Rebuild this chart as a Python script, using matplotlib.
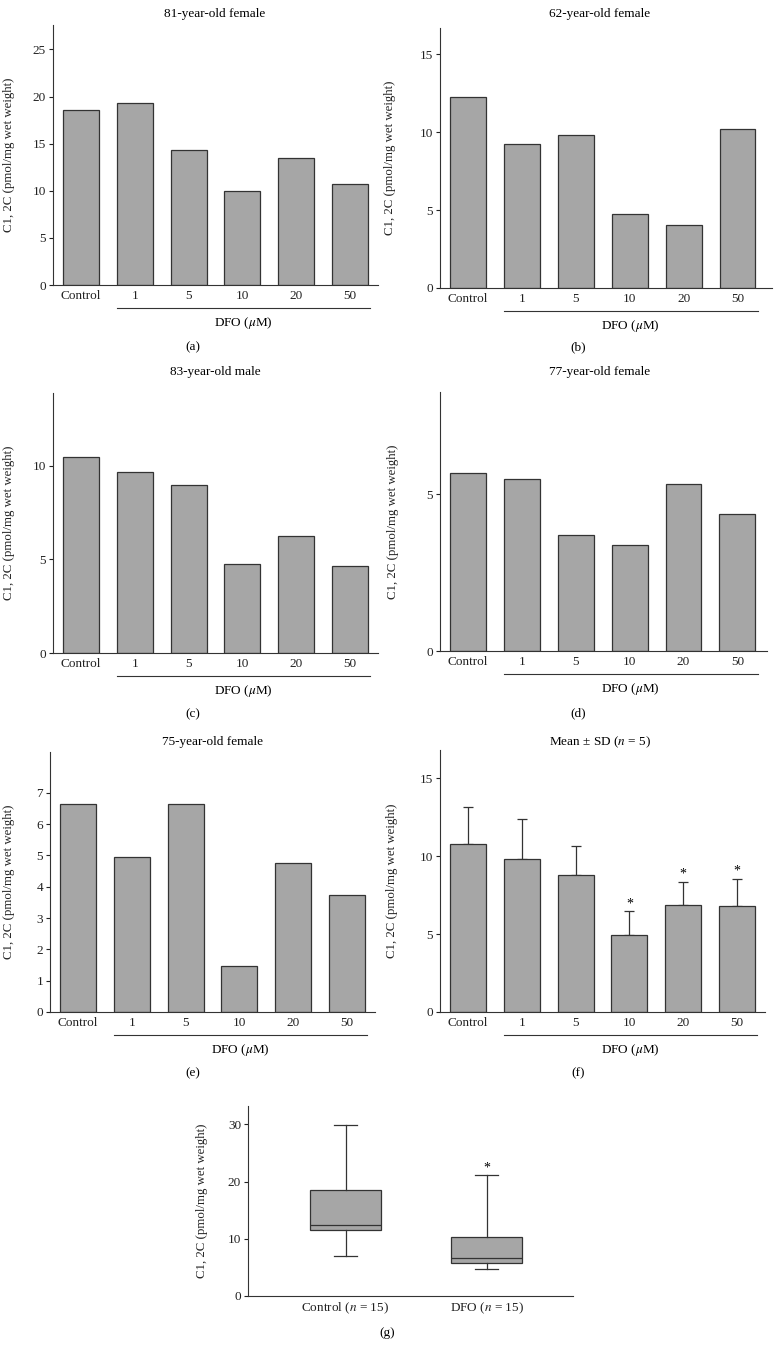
import numpy as np
import matplotlib.pyplot as plt
from matplotlib import transforms

plt.rcParams['font.family'] = 'Liberation Serif'
plt.rcParams['mathtext.fontset'] = 'stix'
plt.rcParams['font.size'] = 9.5

# bar data
groups = ['Control', '1', '5', '10', '20', '50']
vals_a = [18.6, 19.3, 14.3, 10.0, 13.5, 10.7]
vals_b = [12.3, 9.25, 9.8, 4.75, 4.05, 10.2]
vals_c = [10.5, 9.65, 9.0, 4.75, 6.25, 4.65]
vals_d = [5.67, 5.49, 3.69, 3.40, 5.34, 4.39]
vals_e = [6.65, 4.95, 6.65, 1.48, 4.75, 3.75]
mean_f = [10.8, 9.8, 8.78, 4.95, 6.85, 6.8]
sd_f = [2.35, 2.6, 1.85, 1.5, 1.5, 1.75]
sig_f = [False, False, False, True, True, True]

# box plot (g)
box_labels = ['Control ($n$ = 15)', 'DFO ($n$ = 15)']
box_whislo = [6.95, 4.7]
box_q1 = [11.6, 5.85]
box_med = [12.4, 6.7]
box_q3 = [18.6, 10.3]
box_whishi = [29.8, 21.1]
box_sig = [False, True]

ylab = 'C1, 2C (pmol/mg wet weight)'
FILL = '#a6a6a6'
EDGE = '#333333'

W, H = 774, 1358
fig = plt.figure(figsize=(W / 100, H / 100), dpi=100)


def px_axes(l, t, r, b):
    return fig.add_axes([l / W, 1 - b / H, (r - l) / W, (b - t) / H])


def style_axes(ax, width_px, lab_off):
    for s in ['top', 'right']:
        ax.spines[s].set_visible(False)
    for s in ['left', 'bottom']:
        ax.spines[s].set_color(EDGE)
        ax.spines[s].set_linewidth(0.8)
    ax.tick_params(axis='x', length=0, pad=3.5, colors='#222222')
    ax.tick_params(axis='y', direction='out', length=3, width=0.8, pad=2, colors='#222222')
    ax.set_ylabel(ylab, color='#222222', fontsize=9.3)
    ax.yaxis.set_label_coords(-lab_off / width_px, 0.5)


def bar_panel(rect, values, ymax, yticks, xmax, lab_off, err=None, sig=None):
    l, t, r, b = rect
    ax = px_axes(l, t, r, b)
    x = np.arange(len(groups))
    ax.bar(x, values, width=0.667, color=FILL, edgecolor=EDGE, linewidth=0.9, zorder=2)
    if err is not None:
        ax.errorbar(x, values, yerr=[np.zeros(len(err)), err], fmt='none',
                    ecolor=EDGE, elinewidth=0.9, capsize=3.4, capthick=0.9, zorder=1)
        for xi, v, e, s in zip(x, values, err, sig):
            if s:
                ax.text(xi, v + e + 0.05, '*', ha='center', va='bottom', fontsize=10)
    ax.set_xlim(-0.52, xmax)
    ax.set_ylim(0, ymax)
    ax.set_yticks(yticks)
    ax.set_xticks(x)
    ax.set_xticklabels(groups)
    style_axes(ax, r - l, lab_off)
    # DFO bracket under the dose groups
    trans = transforms.blended_transform_factory(ax.transData, ax.transAxes)
    ax.plot([0.667, 5.38], [-0.088, -0.088], transform=trans, clip_on=False,
            color=EDGE, lw=0.8)
    ax.text(3.02, -0.146, 'DFO ($\\mu$M)', transform=trans, ha='center', va='center')
    return ax


def fig_text(x, y, s):
    fig.text(x / W, 1 - y / H, s, ha='center', va='center')


# (a)
bar_panel((53, 25, 378, 285), vals_a, 27.6, [0, 5, 10, 15, 20, 25], 5.52, 38)
fig_text(215, 14, '81-year-old female')
fig_text(193, 347, '(a)')

# (b)
bar_panel((440, 28, 772, 288), vals_b, 16.7, [0, 5, 10, 15], 5.64, 44)
fig_text(600, 14, '62-year-old female')
fig_text(578, 347, '(b)')

# (c)
bar_panel((53, 393, 378, 653), vals_c, 13.9, [0, 5, 10], 5.52, 38)
fig_text(215, 372, '83-year-old male')
fig_text(193, 714, '(c)')

# (d)
bar_panel((440, 392, 767, 651), vals_d, 8.27, [0, 5], 5.55, 41)
fig_text(600, 372, '77-year-old female')
fig_text(578, 713, '(d)')

# (e)
bar_panel((50, 752, 375, 1012), vals_e, 8.3, [0, 1, 2, 3, 4, 5, 6, 7], 5.52, 35)
fig_text(213, 742, '75-year-old female')
fig_text(193, 1073, '(e)')

# (f)
bar_panel((440, 750, 765, 1012), mean_f, 16.8, [0, 5, 10, 15], 5.52, 42,
          err=sd_f, sig=sig_f)
fig_text(600, 742, 'Mean ± SD ($n$ = 5)')
fig_text(578, 1073, '(f)')

# (g) box plot
axg = px_axes(248, 1106, 573, 1296)
stats = []
for i in range(len(box_labels)):
    stats.append(dict(whislo=box_whislo[i], q1=box_q1[i], med=box_med[i],
                      q3=box_q3[i], whishi=box_whishi[i], fliers=[]))
axg.bxp(stats, positions=[0, 1], widths=0.5, patch_artist=True, showfliers=False,
        capwidths=0.165,
        boxprops=dict(facecolor=FILL, edgecolor=EDGE, linewidth=0.9),
        medianprops=dict(color=EDGE, linewidth=0.9),
        whiskerprops=dict(color=EDGE, linewidth=0.9),
        capprops=dict(color=EDGE, linewidth=0.9))
for i, s in enumerate(box_sig):
    if s:
        axg.text(i, box_whishi[i] + 0.2, '*', ha='center', va='bottom', fontsize=10)
axg.set_xlim(-0.69, 1.61)
axg.set_ylim(0, 33.2)
axg.set_yticks([0, 10, 20, 30])
axg.set_xticks([0, 1])
axg.set_xticklabels(box_labels)
style_axes(axg, 573 - 248, 40)
fig_text(387, 1333, '(g)')

fig.savefig('out.png', dpi=100)
